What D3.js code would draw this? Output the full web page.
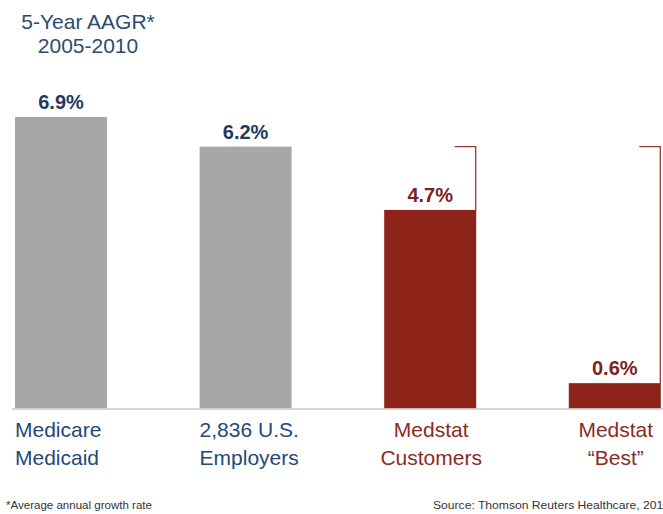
<!DOCTYPE html>
<html>
<head>
<meta charset="utf-8">
<script src="https://cdn.jsdelivr.net/npm/d3@7/dist/d3.min.js"></script>
<style>
  html, body { margin: 0; padding: 0; background: #fff; overflow: hidden; }
  svg { display: block; font-family: "Liberation Sans", Arial, Helvetica, sans-serif; }
</style>
</head>
<body>
<svg id="chart" width="663" height="514"></svg>
<script>
const categories = [["Medicare", "Medicaid"], ["2,836 U.S.", "Employers"], ["Medstat", "Customers"], ["Medstat", "\u201CBest\u201D"]];
const values = [6.9, 6.2, 4.7, 0.6];
const valueLabels = ["6.9%", "6.2%", "4.7%", "0.6%"];
const groups = ["benchmark", "benchmark", "medstat", "medstat"];
const titleLines = ["5-Year AAGR*", "2005-2010"];
const footnote = "*Average annual growth rate";
const source = "Source: Thomson Reuters Healthcare, 2011";

const svg = d3.select("#chart");
const baseY = 408.5;

const step = 184.6, bw = 92, x0 = 15;
const xPos = d3.scaleLinear().domain([0, 1]).range([x0, x0 + step]);
const y = d3.scaleLinear().domain([0, 6.9]).range([baseY, 117]);

const fillColor = d3.scaleOrdinal().domain(["benchmark", "medstat"]).range(["#a7a7a7", "#8e2419"]);
const textColor = d3.scaleOrdinal().domain(["benchmark", "medstat"]).range(["#1f3b61", "#7a2420"]);
const labelColor = d3.scaleOrdinal().domain(["benchmark", "medstat"]).range(["#234a78", "#8a2c26"]);

// title
svg.append("g").selectAll("text").data(titleLines).join("text")
  .attr("x", 88).attr("y", (d, i) => 29 + i * 24)
  .attr("text-anchor", "middle")
  .attr("font-size", 21).attr("fill", "#2e4b70")
  .text(d => d);

// bars
svg.append("g").selectAll("rect").data(values).join("rect")
  .attr("x", (d, i) => xPos(i)).attr("width", bw)
  .attr("y", d => y(d)).attr("height", d => baseY - y(d))
  .attr("fill", (d, i) => fillColor(groups[i]));

// baseline
svg.append("line").attr("x1", 12).attr("x2", 663).attr("y1", baseY + 0.5).attr("y2", baseY + 0.5)
  .attr("stroke", "#c8c8c8").attr("stroke-width", 1.5);

// value labels
svg.append("g").selectAll("text").data(values).join("text")
  .attr("x", (d, i) => xPos(i) + bw / 2).attr("y", d => y(d) - 8)
  .attr("text-anchor", "middle").attr("font-size", 20).attr("font-weight", "bold")
  .attr("fill", (d, i) => textColor(groups[i]))
  .text((d, i) => valueLabels[i]);

// brackets from benchmark (bar 2 top) to medstat bars
const refY = y(values[1]);
[2, 3].forEach(i => {
  const xr = xPos(i) + bw - 0.5;
  svg.append("path")
    .attr("d", `M${xr - 21},${refY}H${xr}V${y(values[i])}`)
    .attr("fill", "none").attr("stroke", "#9a3b36").attr("stroke-width", 1.3);
});

// category labels
const cat = svg.append("g").selectAll("text").data(categories).join("text")
  .attr("font-size", 21)
  .attr("fill", (d, i) => labelColor(groups[i]))
  .attr("text-anchor", (d, i) => i < 2 ? "start" : "middle")
  .attr("x", (d, i) => i < 2 ? xPos(i) : xPos(i) + bw / 2 + 1);
cat.selectAll("tspan").data(d => d).join("tspan")
  .attr("x", function () { return d3.select(this.parentNode).attr("x"); })
  .attr("y", (d, j) => 437 + j * 27.5)
  .text(d => d);

// footnotes
svg.append("text").attr("x", 6).attr("y", 509).attr("font-size", 10).attr("fill", "#333")
  .attr("textLength", 146).attr("lengthAdjust", "spacingAndGlyphs").text(footnote);
svg.append("text").attr("x", 433).attr("y", 509).attr("font-size", 10.5).attr("fill", "#333")
  .attr("textLength", 236).attr("lengthAdjust", "spacingAndGlyphs").text(source);
</script>
</body>
</html>
